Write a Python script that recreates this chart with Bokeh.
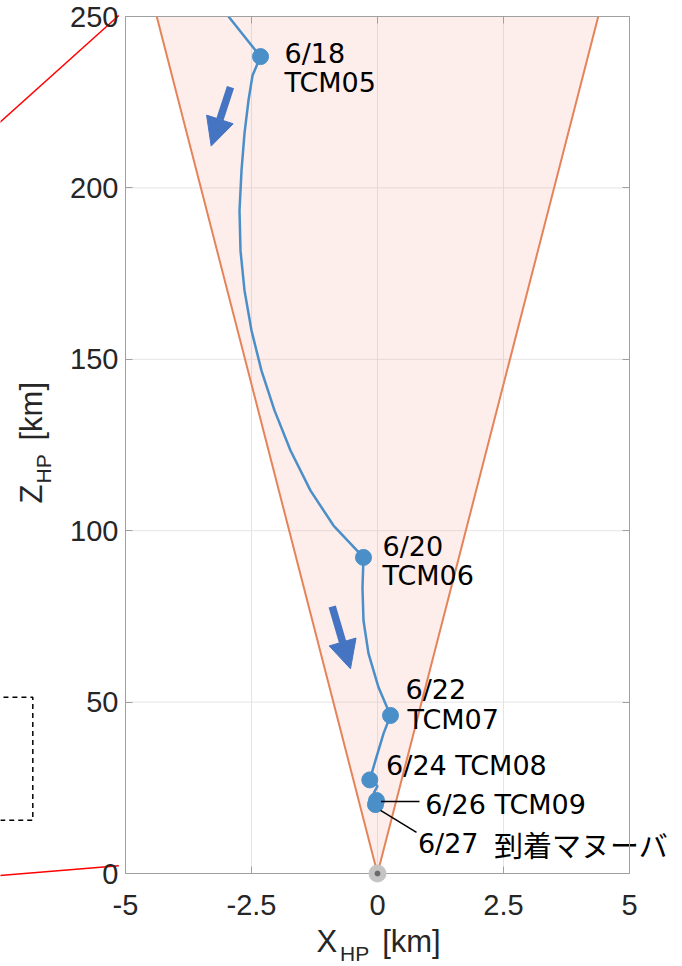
from bokeh.plotting import figure
from bokeh.models import (FixedTicker, LinearAxis, Arrow, NormalHead, Range1d,
                          CustomJSTickFormatter)
from bokeh.core.properties import value
from bokeh.embed import file_html
from bokeh.resources import INLINE

# ---------------- data ----------------
# spacecraft trajectory in hovering-point frame (X_HP km, Z_HP km)
traj_x = [-2.956, -2.321, -2.480, -2.560, -2.639, -2.698, -2.738, -2.718, -2.639,
          -2.500, -2.302, -2.044, -1.726, -1.329, -0.873, -0.278, -0.298, -0.278,
          -0.179, 0.020, 0.258, 0.119, -0.040, -0.153, 0.000, -0.070, -0.020, -0.040]
traj_z = [250.0, 238.3, 232.8, 225.5, 215.9, 205.1, 193.4, 181.7, 170.1,
          158.4, 146.7, 135.1, 123.4, 111.7, 101.5, 92.2, 83.4, 73.8,
          64.2, 54.3, 46.1, 40.8, 33.0, 27.3, 25.5, 23.6, 21.3, 20.1]

# manoeuvres (TCM)
tcm_x = [-2.321, -0.278, 0.258, -0.153, -0.020, -0.040]
tcm_z = [238.3, 92.2, 46.1, 27.3, 21.3, 20.1]
tcm_date = ["6/18", "6/20", "6/22", "6/24", "6/26", "6/27"]
tcm_name = ["TCM05", "TCM06", "TCM07", "TCM08", "TCM09", "到着マヌーバ"]

# label text lines and their anchors (left / middle)
label_text = ["6/18", "TCM05", "6/20", "TCM06", "6/22", "TCM07",
              "6/24 TCM08", "6/26 TCM09", "6/27"]
label_x = [-1.845, -1.845, 0.099, 0.099, 0.556, 0.595, 0.171, 0.948, 0.802]
label_z = [239.2, 230.7, 95.4, 86.9, 53.7, 44.9, 31.5, 20.0, 8.75]
jp_text = ["到着マヌーバ"]
jp_x = [2.313]
jp_z = [8.75]

# leader lines for the two overlapping points
leader_x0 = [0.069, 0.060]
leader_z0 = [21.0, 18.4]
leader_x1 = [0.833, 0.774]
leader_z1 = [21.0, 12.0]

# approach corridor (cone)
cone_half_width_top = 4.38
z_top = 250.0

# origin (hovering point)
origin_x = [0.0]
origin_z = [0.0]

# direction arrows
arrow_x0 = [-2.917, -0.899]
arrow_z0 = [229.4, 77.9]
arrow_x1 = [-3.300, -0.536]
arrow_z1 = [212.2, 59.7]

x_ticks = [-5, -2.5, 0, 2.5, 5]
z_ticks = [0, 50, 100, 150, 200, 250]

# zoom connectors from the neighbouring panel (outside the axes)
conn_x = [[-5.133, -7.50], [-5.133, -7.50]]
conn_z = [[250.3, 219.0], [2.25, -0.6]]
zoombox_x = [-7.60, -6.839, -6.839, -7.60]
zoombox_z = [51.4, 51.4, 15.5, 15.5]

# ---------------- figure ----------------
W, H = 682, 966
L, R, T, B = 125, 53, 16, 93          # axes box margins in pixels
x0, x1 = x_ticks[0], x_ticks[-1]
z0, z1 = z_ticks[0], z_ticks[-1]
sx = (W - L - R) / (x1 - x0)
sz = (H - T - B) / (z1 - z0)

p = figure(width=W, height=H,
           x_range=Range1d(x0 - L / sx, x1 + R / sx),
           y_range=Range1d(z0 - B / sz, z1 + T / sz),
           output_backend="svg", toolbar_location=None,
           x_axis_location=None, y_axis_location=None,
           min_border_left=0, min_border_right=0, min_border_top=0, min_border_bottom=0)
p.background_fill_color = "white"
p.border_fill_color = "white"
p.outline_line_color = None
p.xgrid.visible = False
p.ygrid.visible = False

TICK_FONT = "Liberation Sans"
TICK_COLOR = "#262626"
AX_COLOR = "#a0a0a0"
GRID_COLOR = "#e4e4e4"

# grid lines (inside the box only)
p.segment(x_ticks[1:-1], [z0] * 3, x_ticks[1:-1], [z1] * 3, line_color=GRID_COLOR, line_width=1)
p.segment([x0] * 4, z_ticks[1:-1], [x1] * 4, z_ticks[1:-1], line_color=GRID_COLOR, line_width=1)


def make_axis(ticks, loc, bounds, labels):
    ax = LinearAxis(ticker=FixedTicker(ticks=ticks), fixed_location=loc, bounds=bounds)
    ax.axis_line_color = AX_COLOR
    ax.axis_line_width = 1
    ax.major_tick_line_color = AX_COLOR
    ax.major_tick_in = 7
    ax.major_tick_out = 0
    ax.minor_tick_line_color = None
    ax.major_label_text_font = TICK_FONT
    ax.major_label_text_color = TICK_COLOR
    ax.major_label_text_font_size = "29px"
    if not labels:
        ax.formatter = CustomJSTickFormatter(code="return '';")
    else:
        ax.formatter = CustomJSTickFormatter(code="return tick.toString();")
    return ax


bottom_ax = make_axis(x_ticks, z0, (x0, x1), True)
bottom_ax.major_label_standoff = 21
left_ax = make_axis(z_ticks, x0, (z0, z1), True)
left_ax.major_label_standoff = 7
top_ax = make_axis(x_ticks, z1, (x0, x1), False)
right_ax = make_axis(z_ticks, x1, (z0, z1), False)
p.add_layout(bottom_ax, "below")
p.add_layout(left_ax, "left")
p.add_layout(top_ax, "above")
p.add_layout(right_ax, "right")

# cone
p.patch([0, -cone_half_width_top, cone_half_width_top], [0, z_top, z_top],
        fill_color="#f4a59a", fill_alpha=0.2, line_color=None)
p.line([-cone_half_width_top, 0, cone_half_width_top], [z_top, 0, z_top],
       line_color="#e5835a", line_width=2)

BLUE = "#4a8fc8"
p.line(traj_x, traj_z, line_color=BLUE, line_width=2.5)
p.scatter(tcm_x, tcm_z, size=16, fill_color=BLUE, line_color=BLUE)

# leaders
p.segment(leader_x0, leader_z0, leader_x1, leader_z1, line_color="black", line_width=1.5)

# arrows
for xs, zs, xe, ze in zip(arrow_x0, arrow_z0, arrow_x1, arrow_z1):
    p.add_layout(Arrow(x_start=xs, y_start=zs, x_end=xe, y_end=ze,
                       line_color="#4575c2", line_width=7.5,
                       end=NormalHead(size=28, fill_color="#4575c2", line_color="#4575c2",
                                      line_width=1)))

# origin marker
p.scatter(origin_x, origin_z, size=17, fill_color="#c4c4c4", line_color="#c4c4c4",
          level="overlay")
p.scatter(origin_x, origin_z, size=5, fill_color="#6a6a6a", line_color="#6a6a6a",
          level="overlay")

# annotation texts
p.text(label_x, label_z, text=label_text, text_font=value("DejaVu Sans"),
       text_font_size="27px", text_color="black", text_align="left",
       text_baseline="middle")
p.text(jp_x, jp_z, text=jp_text, text_font=value("Noto Sans CJK JP"),
       text_font_size="29px", text_color="black", text_align="left",
       text_baseline="middle")

# axis titles (with subscripts)
def title_text(x, z, txt, size, angle=0.0):
    p.text([x], [z], text=[txt], text_font=value(TICK_FONT), text_font_size=size,
           text_color=TICK_COLOR, text_align="left", text_baseline="alphabetic",
           angle=angle)

title_text(-1.210, -19.84, "X", "31px")
title_text(-0.744, -23.3, "HP", "21px")
title_text(0.093, -19.84, "[km]", "31px")
title_text(-6.865, 107.9, "Z", "31px", 1.5708)
title_text(-6.627, 113.8, "HP", "21px", 1.5708)
title_text(-6.865, 126.3, "[km]", "31px", 1.5708)

# zoom connectors and zoom box
p.multi_line(conn_x, conn_z, line_color="red", line_width=1.5)
p.line(zoombox_x, zoombox_z, line_color="black", line_width=1.5, line_dash="5 4")

open("out.html", "w").write(file_html(p, INLINE))
